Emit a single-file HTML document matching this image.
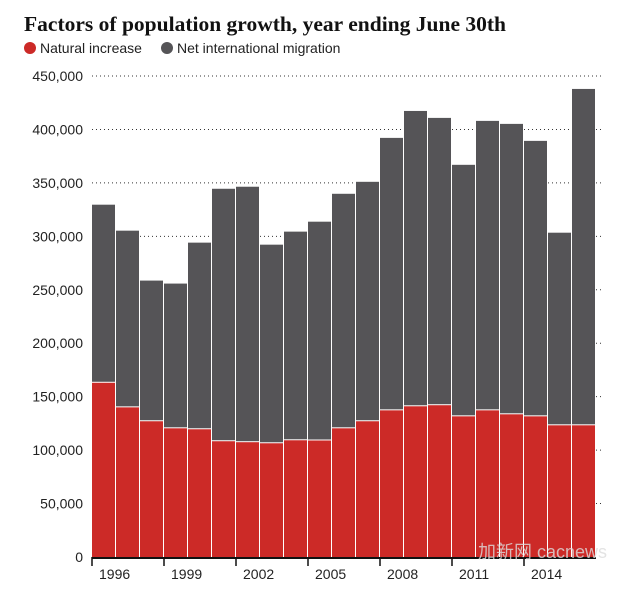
<!DOCTYPE html>
<html><head><meta charset="utf-8"><style>
body{margin:0;background:#fff;width:617px;height:587px;overflow:hidden;font-family:"Liberation Sans",sans-serif}
</style></head><body>
<svg id="c" width="617" height="587" xmlns="http://www.w3.org/2000/svg">
<text x="24" y="31" font-family="Liberation Serif,serif" font-weight="bold" font-size="21" textLength="482" lengthAdjust="spacingAndGlyphs" fill="#111">Factors of population growth, year ending June 30th</text>
<g>
<circle cx="30" cy="48" r="6" fill="#cc2a27"/>
<text x="40" y="53" font-size="14" fill="#222">Natural increase</text>
<circle cx="167" cy="48" r="6" fill="#555457"/>
<text x="177" y="53" font-size="14" fill="#222">Net international migration</text>
</g>
<g id="grid"></g><g id="bars"></g><g id="axis"></g>
</svg>
<script>
const years=[1996,1997,1998,1999,2000,2001,2002,2003,2004,2005,2006,2007,2008,2009,2010,2011,2012,2013,2014,2015,2016];
const totals=[329600,305300,258600,255800,294100,344500,346400,292200,304400,313700,339800,351000,392100,417300,410800,366900,408000,405200,389300,303400,437900];
const natural=[163000,140000,127000,120400,119500,108300,107400,106400,109200,109000,120400,127000,137200,141000,142000,131600,137200,133500,131600,123200,123200];
const yTicks=[0,50000,100000,150000,200000,250000,300000,350000,400000,450000];
const xLabels=["1996","1999","2002","2005","2008","2011","2014"];
const NS='http://www.w3.org/2000/svg';
const x0=92,step=24,y0=557,yTop=76,maxV=450000;
const y=v=>y0-(v/maxV)*(y0-yTop);
const x=i=>x0+i*step;
function mk(t,a){const e=document.createElementNS(NS,t);for(const k in a)e.setAttribute(k,a[k]);return e;}
const grid=document.getElementById('grid'),bars=document.getElementById('bars'),axis=document.getElementById('axis');
yTicks.forEach(v=>{
 const t=mk('text',{x:83,y:y(v)+5,'text-anchor':'end','font-size':14,fill:'#222'});t.textContent=v===0?'0':v.toLocaleString('en-US');
 
 
 axis.appendChild(t);
 if(v>0){const l=mk('line',{x1:92,x2:602,y1:y(v),y2:y(v),stroke:'#333','stroke-width':1,'stroke-dasharray':'1 3'});
 
 
 grid.appendChild(l);}
});
years.forEach((yr,i)=>{
 const n=mk('rect',{x:x(i),y:y(natural[i]),width:step-1,height:y0-y(natural[i]),fill:'#cc2a27'});
 
 
 bars.appendChild(n);
 const m=mk('rect',{x:x(i),y:y(totals[i]),width:step-1,height:y(natural[i])-y(totals[i])-1,fill:'#555457'});
 
 
 bars.appendChild(m);
});
const base=mk('line',{x1:92,x2:x(years.length),y1:y0+1,y2:y0+1,stroke:'#111','stroke-width':2});


axis.appendChild(base);
xLabels.forEach((lb,j)=>{
 const i=years.indexOf(+lb);
 const tk=mk('line',{x1:x(i),x2:x(i),y1:y0,y2:y0+9,stroke:'#111','stroke-width':1.5});
 
 
 axis.appendChild(tk);
 const t=mk('text',{x:x(i)+7,y:y0+22,'font-size':14,fill:'#222'});t.textContent=lb;
 
 
 axis.appendChild(t);
});
const wm=mk('text',{x:478,y:y0+1,'font-size':18,fill:'#ddd',opacity:0.8,'font-family':'Liberation Sans,Noto Sans CJK SC,sans-serif'});wm.textContent='加新网 cacnews';


axis.appendChild(wm);
</script>
</body></html>
